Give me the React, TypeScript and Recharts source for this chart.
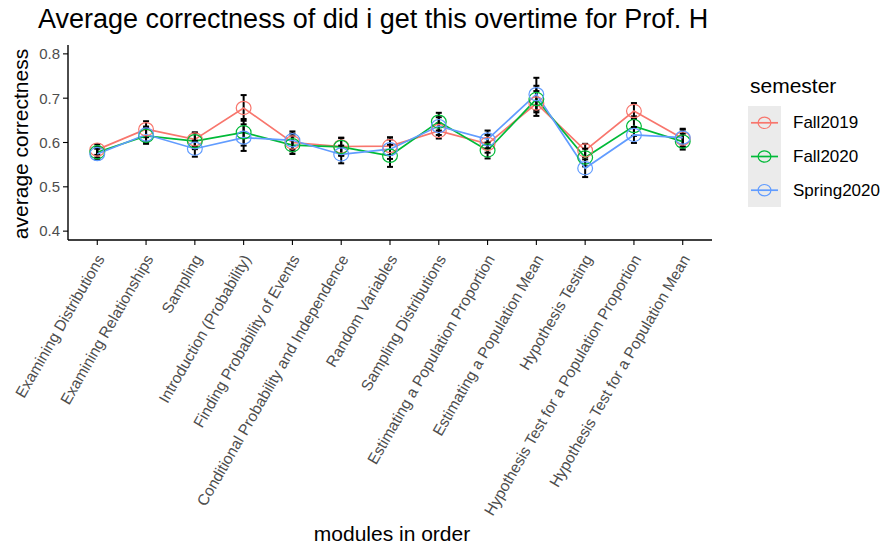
import { LineChart, Line, XAxis, YAxis, ErrorBar } from 'recharts'

const MODULES = [
  'Examining Distributions',
  'Examining Relationships',
  'Sampling',
  'Introduction (Probability)',
  'Finding Probability of Events',
  'Conditional Probability and Independence',
  'Random Variables',
  'Sampling Distributions',
  'Estimating a Population Proportion',
  'Estimating a Population Mean',
  'Hypothesis Testing',
  'Hypothesis Test for a Population Proportion',
  'Hypothesis Test for a Population Mean',
]

const FALL2019 = [0.584, 0.63, 0.607, 0.678, 0.6, 0.591, 0.592, 0.626, 0.597, 0.688, 0.582, 0.671, 0.609]
const FALL2020 = [0.578, 0.615, 0.603, 0.623, 0.594, 0.59, 0.57, 0.647, 0.582, 0.698, 0.566, 0.637, 0.602]
const SPRING2020 = [0.574, 0.618, 0.586, 0.611, 0.605, 0.573, 0.585, 0.637, 0.607, 0.709, 0.542, 0.617, 0.611]

const FALL2019_ERR = [0.012, 0.018, 0.016, 0.029, 0.02, 0.02, 0.02, 0.017, 0.02, 0.028, 0.015, 0.018, 0.02]
const FALL2020_ERR = [0.012, 0.018, 0.018, 0.03, 0.02, 0.02, 0.025, 0.02, 0.018, 0.03, 0.02, 0.022, 0.018]
const SPRING2020_ERR = [0.012, 0.018, 0.018, 0.03, 0.02, 0.02, 0.022, 0.02, 0.02, 0.037, 0.02, 0.018, 0.02]

const Y_TICKS = [0.4, 0.5, 0.6, 0.7, 0.8]

const SERIES = [
  { key: 'fall2019', label: 'Fall2019', color: '#F8766D' },
  { key: 'fall2020', label: 'Fall2020', color: '#00BA38' },
  { key: 'spring2020', label: 'Spring2020', color: '#619CFF' },
]

const data = MODULES.map((name, i) => ({
  idx: i + 1,
  name,
  fall2019: FALL2019[i],
  fall2020: FALL2020[i],
  spring2020: SPRING2020[i],
  fall2019Err: FALL2019_ERR[i],
  fall2020Err: FALL2020_ERR[i],
  spring2020Err: SPRING2020_ERR[i],
}))

const FONT = '"Liberation Sans", Arial, Helvetica, sans-serif'

function ModuleTick({ x, y, payload }: any) {
  const label = MODULES[payload.value - 1]
  const px = x + 3
  const py = y + 9
  return (
    <text
      x={px}
      y={py}
      transform={`rotate(-60, ${px}, ${py})`}
      textAnchor="end"
      dominantBaseline="central"
      fontSize={15.5}
      fill="#4d4d4d"
      fontFamily={FONT}
    >
      {label}
    </text>
  )
}

function HollowDot({ cx, cy, stroke }: any) {
  if (cx == null || cy == null) return null
  return <ellipse cx={cx} cy={cy} rx={7.4} ry={6.6} fill="none" stroke={stroke} strokeWidth={1.2} />
}

export default function App() {
  return (
    <div style={{ position: 'relative', width: 884, height: 548, fontFamily: FONT, background: '#fff' }}>
      <style>{'body{margin:0}'}</style>
      <LineChart
        width={884}
        height={548}
        data={data}
        margin={{ top: 45, right: 172, bottom: 108, left: 0 }}
      >
        <XAxis
          dataKey="idx"
          type="number"
          domain={[0.4, 13.6]}
          allowDataOverflow
          ticks={data.map((d) => d.idx)}
          interval={0}
          height={200}
          tick={<ModuleTick />}
          tickSize={5}
          tickLine={{ stroke: '#000', strokeWidth: 1.1 }}
          axisLine={{ stroke: '#000', strokeWidth: 1.4 }}
        />
        <YAxis
          type="number"
          domain={[0.38, 0.82]}
          allowDataOverflow
          ticks={Y_TICKS}
          width={68}
          tickFormatter={(v: number) => v.toFixed(1)}
          tick={{ fontSize: 15, fill: '#4d4d4d', fontFamily: FONT }}
          tickSize={5}
          tickMargin={3}
          tickLine={{ stroke: '#000', strokeWidth: 1.1 }}
          axisLine={{ stroke: '#000', strokeWidth: 1.4 }}
        />
        {SERIES.map(({ key, color }) => (
          <Line
            key={key}
            type="linear"
            dataKey={key}
            stroke={color}
            strokeWidth={1.7}
            dot={<HollowDot />}
            activeDot={false}
            isAnimationActive={false}
          >
            <ErrorBar dataKey={`${key}Err`} width={3} stroke="#000" strokeWidth={2} direction="y" />
          </Line>
        ))}
      </LineChart>
      <svg
        width={884}
        height={548}
        style={{ position: 'absolute', left: 0, top: 0, pointerEvents: 'none' }}
        fontFamily={FONT}
      >
        <text x={38} y={28} fontSize={27} fill="#000">
          Average correctness of did i get this overtime for Prof. H
        </text>
        <text x={28} y={144} fontSize={21} fill="#000" textAnchor="middle" transform="rotate(-90, 28, 144)">
          average correctness
        </text>
        <text x={392} y={541} fontSize={21} fill="#000" textAnchor="middle">
          modules in order
        </text>
        <text x={750} y={93} fontSize={21} fill="#000">
          semester
        </text>
        <rect x={748} y={106} width={33} height={101} fill="#ebebeb" />
        {SERIES.map(({ key, label, color }, i) => {
          const cy = 106 + i * 33.7 + 16.8
          return (
            <g key={key}>
              <line x1={751} x2={778} y1={cy} y2={cy} stroke={color} strokeWidth={1.7} />
              <ellipse cx={764.5} cy={cy} rx={6.4} ry={5.7} fill="none" stroke={color} strokeWidth={1.2} />
              <text x={793} y={cy} dominantBaseline="central" fontSize={17} fill="#000">
                {label}
              </text>
            </g>
          )
        })}
      </svg>
    </div>
  )
}
